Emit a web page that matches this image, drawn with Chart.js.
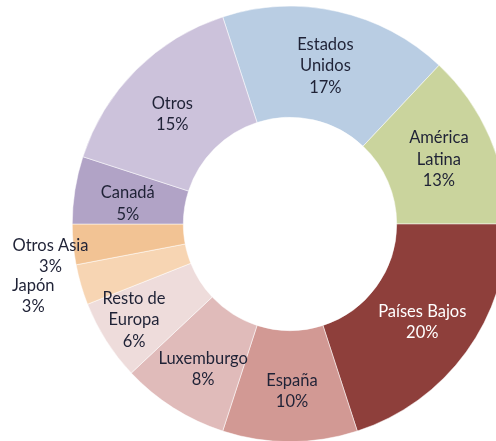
<!DOCTYPE html>
<html>
<head>
<meta charset="utf-8">
<script src="https://cdn.jsdelivr.net/npm/chart.js@4"></script>
<style>
    html, body { margin: 0; padding: 0; background: #fff; overflow: hidden; }
    body { width: 496px; height: 441px; position: relative; }
    #wrap { position: absolute; left: 0; top: 6px; width: 580px; height: 436px; }
</style>
</head>
<body>
<div id="wrap"><canvas id="myChart"></canvas></div>
<script>
    const labels = ['Estados Unidos', 'América Latina', 'Países Bajos', 'España', 'Luxemburgo',
        'Resto de Europa', 'Japón', 'Otros Asia', 'Canadá', 'Otros'];
    const shares = [17, 13, 20, 10, 8, 6, 3, 3, 5, 15];
    const colors = ['#B9CDE3', '#CAD49D', '#8E3F3B', '#D29994', '#E0BBBA',
        '#EEDCDB', '#F7D5B3', '#F2C394', '#B1A3C6', '#CCC2DB'];

    // label text split in lines, like in the original chart
    const labelLines = {
        'Estados Unidos': ['Estados', 'Unidos'],
        'América Latina': ['América', 'Latina'],
        'Resto de Europa': ['Resto de', 'Europa']
    };
    // nudges for labels that the original moved away from the ring middle
    const labelShift = {
        'Resto de Europa': [-19, 9],
        'Japón': [-101, 27],
        'Otros Asia': [-78, 17],
        'Luxemburgo': [0, 8],
        'España': [2, 5],
        'Otros': [-3, 5],
        'Canadá': [-2, 5],
        'Países Bajos': [1, 3]
    };

    const sliceLabels = {
        id: 'sliceLabels',
        afterDatasetsDraw(chart) {
            const ctx = chart.ctx;
            const meta = chart.getDatasetMeta(0);
            ctx.save();
            ctx.font = '16.5px Lato';
            ctx.textAlign = 'center';
            ctx.textBaseline = 'middle';
            meta.data.forEach((arc, i) => {
                const name = labels[i];
                const pos = arc.tooltipPosition();
                const shift = labelShift[name] || [0, 0];
                const lines = (labelLines[name] || [name]).concat([shares[i] + '%']);
                const lh = 21.5;
                const y0 = pos.y + shift[1] - (lines.length - 1) * lh / 2;
                ctx.fillStyle = name === 'Países Bajos' ? '#ffffff' : '#1f2236';
                lines.forEach((t, k) => ctx.fillText(t, pos.x + shift[0], y0 + k * lh));
            });
            ctx.restore();
        }
    };

    const ctx = document.getElementById('myChart').getContext('2d');
    new Chart(ctx, {
        type: 'doughnut',
        data: {
            labels: labels,
            datasets: [{
                data: shares,
                backgroundColor: colors,
                borderColor: '#ffffff',
                borderWidth: 0.5
            }]
        },
        options: {
            responsive: true,
            maintainAspectRatio: false,
            animation: false,
            rotation: -18,
            cutout: '49%',
            layout: { padding: 0 },
            plugins: {
                legend: { display: false },
                tooltip: { enabled: false }
            }
        },
        plugins: [sliceLabels]
    });
</script>
</body>
</html>
